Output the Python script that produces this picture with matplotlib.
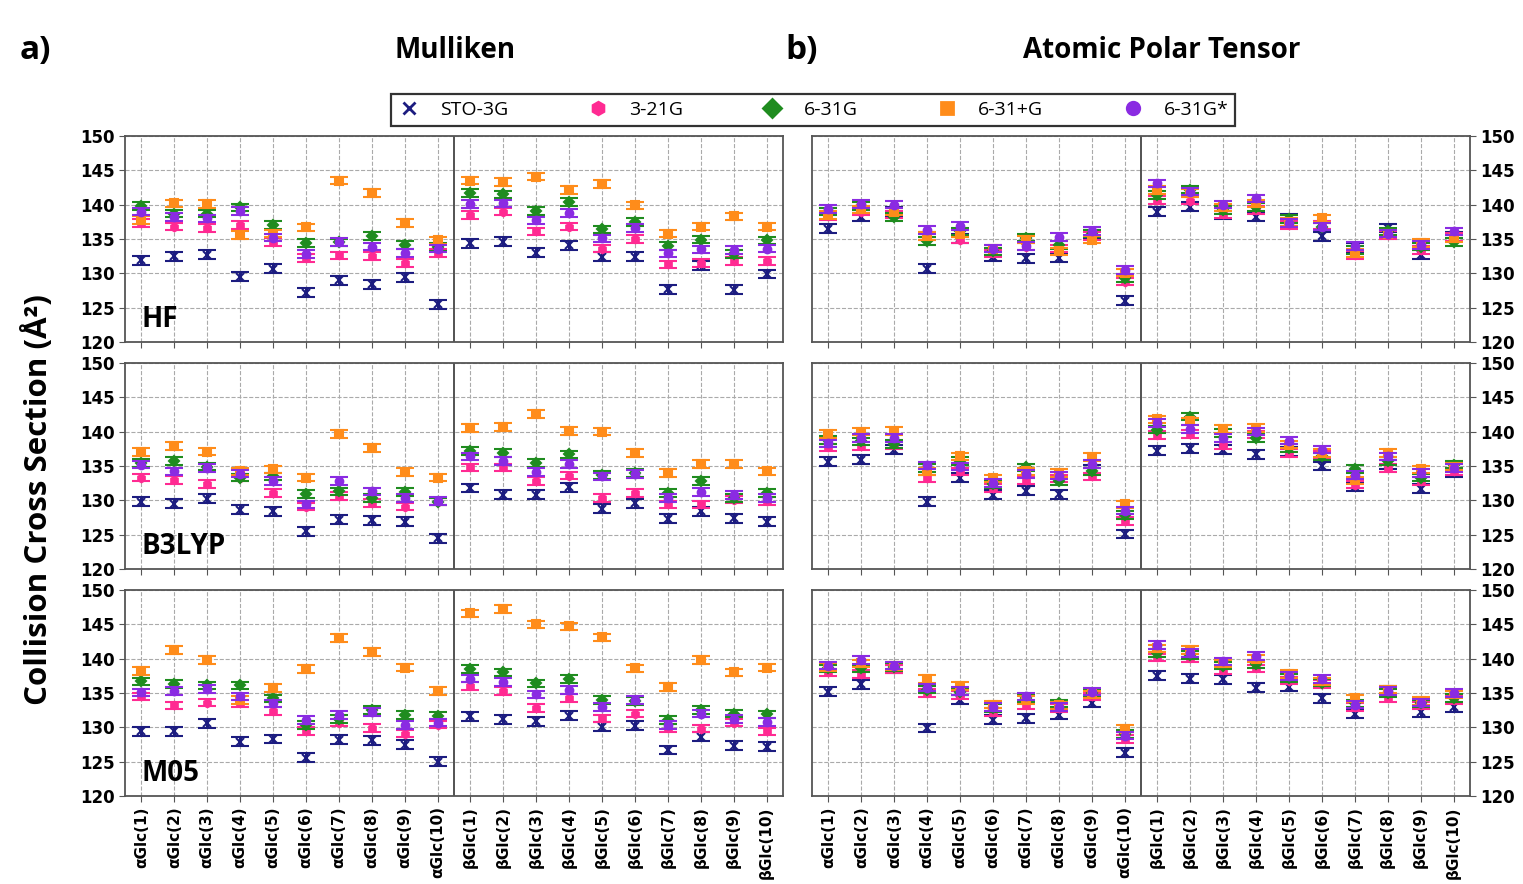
import matplotlib.pyplot as plt
from matplotlib.lines import Line2D
import numpy as np

labels = ['αGlc(%d)' % i for i in range(1, 11)] + ['βGlc(%d)' % i for i in range(1, 11)]
basis = ['STO-3G', '3-21G', '6-31G', '6-31+G', '6-31G*']
colors = ['#1c1c80', '#ff2a92', '#1f8c1f', '#ff8c1a', '#8a2be2']
markers = ['x', 'h', 'D', 's', 'o']
errs = [0.65, 0.55, 0.55, 0.55, 0.55]

# HF / Mulliken
hf_mull_sto = [131.9, 132.5, 132.7, 129.5, 130.7, 127.2, 129.0, 128.4, 129.4, 125.5,
               134.4, 134.6, 133.0, 134.1, 132.4, 132.4, 127.7, 131.2, 127.6, 129.9]
hf_mull_321 = [137.3, 136.8, 136.6, 137.0, 134.6, 132.2, 132.6, 132.5, 131.5, 133.0,
               138.5, 139.0, 136.1, 136.8, 133.6, 135.0, 131.3, 131.5, 131.8, 131.8]
hf_mull_631 = [139.8, 138.7, 138.7, 139.6, 137.0, 134.4, 134.5, 135.4, 134.1, 133.8,
               141.7, 141.5, 139.1, 140.4, 136.4, 137.5, 134.0, 134.9, 132.8, 134.8]
hf_mull_631p = [137.8, 140.2, 140.1, 135.6, 135.8, 136.7, 143.5, 141.7, 137.3, 134.8,
                143.5, 143.3, 144.1, 142.1, 143.0, 139.9, 135.8, 136.8, 138.3, 136.8]
hf_mull_631s = [139.0, 138.2, 138.0, 139.1, 135.2, 132.8, 134.6, 133.9, 133.0, 133.6,
                140.1, 140.2, 137.7, 138.8, 135.1, 136.6, 132.9, 133.5, 133.4, 133.6]

# HF / APT
hf_apt_sto = [136.5, 138.2, 139.0, 130.7, 135.1, 132.4, 132.2, 132.3, 135.7, 126.0,
              139.0, 139.7, 138.5, 138.2, 138.0, 135.4, 133.8, 136.6, 132.7, 135.4]
hf_apt_321 = [138.3, 139.0, 138.6, 135.4, 134.9, 132.9, 133.9, 133.6, 135.4, 128.8,
              140.7, 140.6, 138.6, 139.2, 137.0, 137.0, 132.7, 135.6, 133.4, 135.3]
hf_apt_631 = [139.0, 139.8, 138.2, 134.7, 136.1, 133.2, 135.2, 134.1, 135.8, 129.3,
              141.4, 142.2, 139.2, 139.7, 137.9, 136.8, 133.4, 136.1, 133.9, 134.6]
hf_apt_631p = [138.5, 139.3, 139.0, 135.4, 135.8, 133.6, 134.9, 133.2, 134.9, 130.1,
               142.1, 141.7, 139.6, 140.2, 137.5, 138.0, 133.0, 135.8, 134.4, 135.1]
hf_apt_631s = [139.4, 140.1, 140.0, 136.3, 136.9, 133.6, 134.0, 135.3, 136.2, 130.5,
               143.1, 141.9, 140.0, 140.9, 137.3, 136.8, 134.0, 135.8, 134.1, 136.1]

# B3LYP / Mulliken
b3_mull_sto = [129.8, 129.5, 130.2, 128.6, 128.4, 125.5, 127.2, 127.1, 126.9, 124.5,
               131.8, 130.8, 130.8, 131.9, 128.8, 129.6, 127.3, 128.4, 127.4, 126.9]
b3_mull_321 = [133.3, 133.0, 132.4, 133.3, 131.1, 129.1, 130.6, 129.6, 129.1, 129.8,
               134.8, 134.8, 132.8, 133.6, 130.3, 131.1, 129.4, 129.4, 130.1, 129.9]
b3_mull_631 = [135.4, 135.7, 134.9, 133.3, 133.5, 130.9, 131.3, 130.3, 131.2, 129.8,
               137.2, 136.9, 135.4, 136.7, 133.7, 134.0, 131.1, 132.8, 130.3, 131.1]
b3_mull_631p = [137.0, 137.9, 137.1, 134.2, 134.5, 133.3, 139.7, 137.6, 134.1, 133.3,
                140.5, 140.7, 142.6, 140.1, 140.0, 136.9, 134.0, 135.3, 135.3, 134.2]
b3_mull_631s = [135.2, 134.2, 134.7, 133.9, 132.8, 129.4, 132.8, 131.3, 130.3, 129.9,
                136.4, 135.7, 134.1, 135.3, 133.5, 133.8, 130.3, 131.2, 130.8, 130.3]

# B3LYP / APT
b3_apt_sto = [135.6, 135.9, 137.4, 129.8, 133.3, 130.8, 131.4, 130.9, 134.5, 125.1,
              137.2, 137.5, 137.4, 136.7, 137.1, 135.0, 132.0, 135.2, 131.7, 134.0]
b3_apt_321 = [137.7, 137.9, 138.0, 133.2, 134.2, 131.8, 132.9, 133.2, 133.5, 127.0,
              139.5, 139.7, 138.0, 139.6, 136.9, 136.7, 132.3, 134.7, 132.8, 134.2]
b3_apt_631 = [138.8, 138.6, 138.2, 134.7, 135.7, 132.4, 134.8, 132.8, 134.2, 127.9,
              140.3, 142.2, 139.8, 139.1, 137.6, 136.4, 134.6, 135.7, 133.3, 135.2]
b3_apt_631p = [139.7, 140.0, 140.1, 134.2, 136.4, 133.2, 134.2, 134.0, 136.3, 129.4,
               141.8, 141.5, 140.4, 140.5, 138.1, 136.9, 132.9, 136.9, 134.5, 134.9]
b3_apt_631s = [138.3, 139.1, 139.1, 135.1, 134.9, 132.5, 133.8, 133.6, 135.3, 128.5,
               141.3, 140.4, 139.1, 140.0, 138.7, 137.4, 133.7, 136.4, 134.0, 134.7]

# M05 / Mulliken
m05_mull_sto = [129.4, 129.4, 130.6, 127.9, 128.3, 125.6, 128.2, 128.1, 127.5, 125.0,
                131.6, 131.2, 130.9, 131.7, 130.1, 130.2, 126.7, 128.6, 127.3, 127.2]
m05_mull_321 = [134.5, 133.2, 133.6, 133.5, 132.4, 129.5, 130.7, 129.9, 129.1, 130.4,
                136.0, 135.3, 132.8, 134.3, 131.3, 132.0, 129.9, 129.8, 130.7, 129.4]
m05_mull_631 = [136.7, 136.3, 136.1, 136.1, 134.2, 130.3, 131.2, 132.5, 131.8, 131.7,
                138.5, 138.0, 136.4, 137.0, 134.0, 133.8, 131.1, 132.5, 132.0, 131.9]
m05_mull_631p = [138.2, 141.3, 139.8, 134.0, 135.7, 138.5, 143.0, 141.0, 138.7, 135.3,
                 146.6, 147.2, 145.0, 144.7, 143.1, 138.6, 135.9, 139.8, 138.0, 138.7]
m05_mull_631s = [135.1, 135.3, 135.6, 134.5, 133.5, 131.1, 131.8, 132.2, 130.3, 130.7,
                 137.1, 136.6, 134.8, 135.4, 133.0, 134.0, 130.3, 132.0, 131.2, 130.8]

# M05 / APT
m05_apt_sto = [135.2, 136.3, 138.5, 129.9, 134.0, 131.1, 131.3, 131.8, 133.6, 126.3,
               137.5, 137.1, 137.0, 135.8, 135.9, 134.2, 132.0, 135.3, 132.2, 132.9]
m05_apt_321 = [138.0, 137.8, 138.5, 135.0, 134.7, 132.2, 133.2, 132.8, 134.5, 128.3,
               140.2, 140.1, 138.3, 138.6, 136.8, 136.3, 133.0, 134.2, 133.2, 134.0]
m05_apt_631 = [138.6, 138.6, 138.8, 135.5, 135.2, 132.8, 134.2, 133.5, 135.0, 129.0,
               140.8, 140.5, 139.0, 139.2, 137.2, 136.5, 133.5, 135.0, 133.5, 134.3]
m05_apt_631p = [138.8, 139.3, 138.9, 137.0, 136.0, 133.3, 134.0, 133.2, 134.8, 129.8,
                141.5, 141.3, 139.3, 140.0, 137.8, 136.7, 134.2, 135.5, 133.8, 134.8]
m05_apt_631s = [139.0, 139.8, 139.0, 135.8, 135.3, 133.0, 134.5, 133.0, 135.2, 128.8,
                142.0, 140.8, 139.6, 140.4, 137.5, 137.0, 133.3, 135.3, 133.6, 135.0]

methods = ['HF', 'B3LYP', 'M05']
panels = {
    ('HF', 0): [hf_mull_sto, hf_mull_321, hf_mull_631, hf_mull_631p, hf_mull_631s],
    ('HF', 1): [hf_apt_sto, hf_apt_321, hf_apt_631, hf_apt_631p, hf_apt_631s],
    ('B3LYP', 0): [b3_mull_sto, b3_mull_321, b3_mull_631, b3_mull_631p, b3_mull_631s],
    ('B3LYP', 1): [b3_apt_sto, b3_apt_321, b3_apt_631, b3_apt_631p, b3_apt_631s],
    ('M05', 0): [m05_mull_sto, m05_mull_321, m05_mull_631, m05_mull_631p, m05_mull_631s],
    ('M05', 1): [m05_apt_sto, m05_apt_321, m05_apt_631, m05_apt_631p, m05_apt_631s],
}

fig = plt.figure(figsize=(15.23, 8.84), dpi=100)
W, H = 1523.0, 884.0

col_left = [125 / W, 812 / W]
col_width = 658 / W
row_top = [136, 363, 590]
row_height = 206 / H

x = np.arange(len(labels))

for r, method in enumerate(methods):
    for c in range(2):
        bottom = 1 - (row_top[r] + 206) / H
        ax = fig.add_axes([col_left[c], bottom, col_width, row_height])
        ax.set_axisbelow(True)
        ax.grid(color='#aaaaaa', linestyle='--', linewidth=0.8)
        for k, series in enumerate(panels[(method, c)]):
            ax.errorbar(x, series, yerr=errs[k], fmt=markers[k], color=colors[k],
                        ms=5.5, mew=1.5, capsize=6.5, capthick=2.5, elinewidth=2.2,
                        zorder=3 + k)
        ax.axvline(9.5, color='#444444', linewidth=1.3, zorder=2)
        ax.set_xlim(-0.5, 19.5)
        ax.set_ylim(120, 150)
        ax.set_yticks(np.arange(120, 151, 5))
        ax.set_xticks(x)
        for sp in ax.spines.values():
            sp.set_color('#555555')
            sp.set_linewidth(1.3)
        if r == 2:
            ax.set_xticklabels(labels, rotation=90, fontsize=11, fontweight='bold')
        else:
            ax.set_xticklabels([])
        if c == 1:
            ax.yaxis.tick_right()
        ax.tick_params(axis='both', length=4, color='#555555')
        for t in ax.get_yticklabels():
            t.set_fontsize(12)
            t.set_fontweight('bold')
        if c == 0:
            ax.text(0.025, 0.04, method, transform=ax.transAxes, fontsize=20,
                    fontweight='bold', family='Open Sans', va='bottom', ha='left')

fig.text(0.025, 0.435, 'Collision Cross Section (Å²)', rotation=90, fontsize=22.5,
         fontweight='bold', family='Open Sans', ha='center', va='center')

fig.text(20 / W, 1 - 50 / H, 'a)', fontsize=24, fontweight='bold', family='Open Sans', va='center')
fig.text(455 / W, 1 - 50 / H, 'Mulliken', fontsize=20, fontweight='bold', family='Open Sans',
         ha='center', va='center')
fig.text(785 / W, 1 - 50 / H, 'b)', fontsize=24, fontweight='bold', family='Open Sans', va='center')
fig.text(1162 / W, 1 - 50 / H, 'Atomic Polar Tensor', fontsize=20, fontweight='bold',
         family='Open Sans', ha='center', va='center')

handles = [Line2D([], [], linestyle='none', marker=markers[k], color=colors[k],
                  ms=9, mew=2) for k in range(5)]
leg = fig.legend(handles, basis, loc='center', bbox_to_anchor=(813 / W, 1 - 110 / H),
                 ncol=5, frameon=True, fancybox=False, edgecolor='black',
                 prop={'family': 'Open Sans', 'size': 14}, columnspacing=4.0,
                 handlelength=1.2, handletextpad=1.0, borderpad=0.35)
leg.get_frame().set_linewidth(1.6)

fig.savefig('out.png', dpi=100)
